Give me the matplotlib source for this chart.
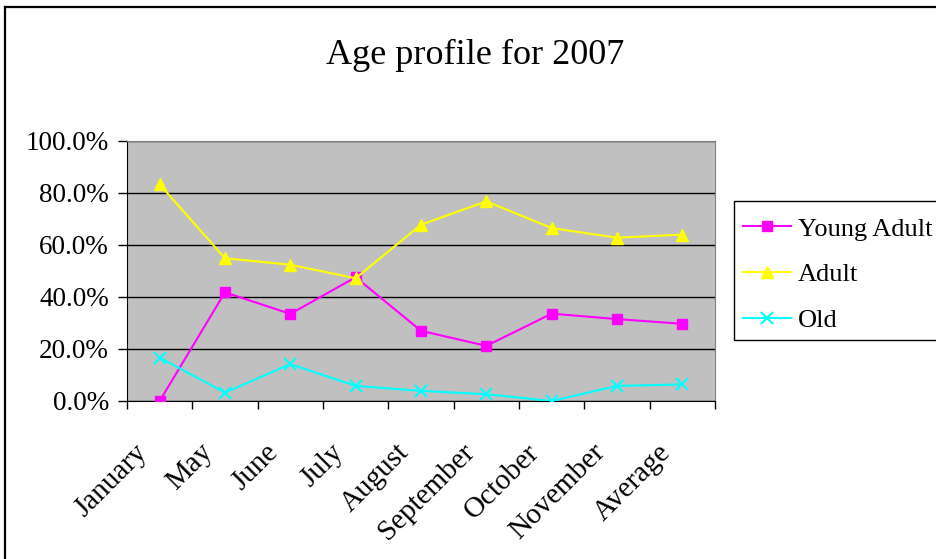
import matplotlib.pyplot as plt
from matplotlib.lines import Line2D
from matplotlib.patches import Rectangle
from matplotlib.transforms import ScaledTranslation
from matplotlib.ticker import FixedLocator, PercentFormatter

plt.rcParams['font.family'] = ['Liberation Serif', 'DejaVu Serif']

months = ['January', 'May', 'June', 'July', 'August', 'September',
          'October', 'November', 'Average']
young_adult = [0.0, 41.8, 33.5, 47.6, 27.0, 21.2, 33.6, 31.5, 29.7]
adult = [83.3, 54.9, 52.4, 47.2, 67.8, 76.8, 66.5, 62.8, 64.0]
old = [16.7, 3.2, 14.2, 5.8, 3.9, 2.6, 0.0, 5.8, 6.4]

W, H = 937, 559
fig = plt.figure(figsize=(W / 100, H / 100), dpi=100)
ax = fig.add_axes([127 / W, 1 - 401 / H, (715 - 127) / W, (401 - 141) / H])
ax.set_facecolor('#c0c0c0')

x = list(range(len(months)))
ax.plot(x, young_adult, color='#ff00ff', lw=1.5, marker='s', ms=7,
        label='Young Adult', zorder=3)
ax.plot(x, adult, color='#ffff00', lw=1.5, marker='^', ms=9,
        label='Adult', zorder=3)
ax.plot(x, old, color='#00ffff', lw=1.5, marker='x', ms=9, mew=1.5,
        label='Old', zorder=3)

ax.set_xlim(-0.5, len(months) - 0.5)
ax.set_ylim(0, 100)
ax.yaxis.set_major_locator(FixedLocator([0, 20, 40, 60, 80, 100]))
ax.yaxis.set_major_formatter(PercentFormatter(decimals=1))
ax.grid(axis='y', color='black', lw=1)
ax.set_axisbelow(True)

ax.set_xticks(x)
ax.set_xticklabels(months, rotation=45, ha='right', va='center',
                   rotation_mode='anchor', fontsize=21)
ax.xaxis.set_minor_locator(FixedLocator([i - 0.5 for i in range(len(months) + 1)]))
ax.tick_params(axis='x', which='major', length=0, pad=34)
ax.tick_params(axis='x', which='minor', length=6, direction='out', width=1)
ax.tick_params(axis='y', length=6.5, width=1, labelsize=19.5, pad=6.5)

# nudge the slanted month names to the left (after tick_params, which resets transforms)
shift = ScaledTranslation(-16 / 100, 0, fig.dpi_scale_trans)
for lab in ax.get_xticklabels():
    lab.set_transform(lab.get_transform() + shift)

for side in ('top', 'right'):
    ax.spines[side].set_color('#808080')
for side in ('left', 'bottom'):
    ax.spines[side].set_color('black')

# legend entries without frame, box drawn separately
leg = ax.legend(loc='upper left', bbox_to_anchor=(734 / W, 1 - 208 / H),
                bbox_transform=fig.transFigure, fontsize=19,
                frameon=False, borderaxespad=0, borderpad=0.35,
                labelspacing=0.84, handlelength=1.8, handletextpad=0.27)
fig.add_artist(Rectangle((734 / W, 1 - 340 / H), 300 / W, 139 / H,
                         transform=fig.transFigure, fill=False,
                         edgecolor='black', lw=1))

fig.text(475 / W, 1 - 55 / H, 'Age profile for 2007', ha='center',
         va='center', fontsize=26)

# outer chart frame (only the left and top edges fall inside the image)
fig.add_artist(Line2D([5.5 / W, 5.5 / W], [0, 1 - 6.5 / H], color='black', lw=1.6,
                      transform=fig.transFigure))
fig.add_artist(Line2D([5.5 / W, 1], [1 - 6.5 / H, 1 - 6.5 / H], color='black', lw=1.6,
                      transform=fig.transFigure))

fig.savefig('out.png', dpi=100)
